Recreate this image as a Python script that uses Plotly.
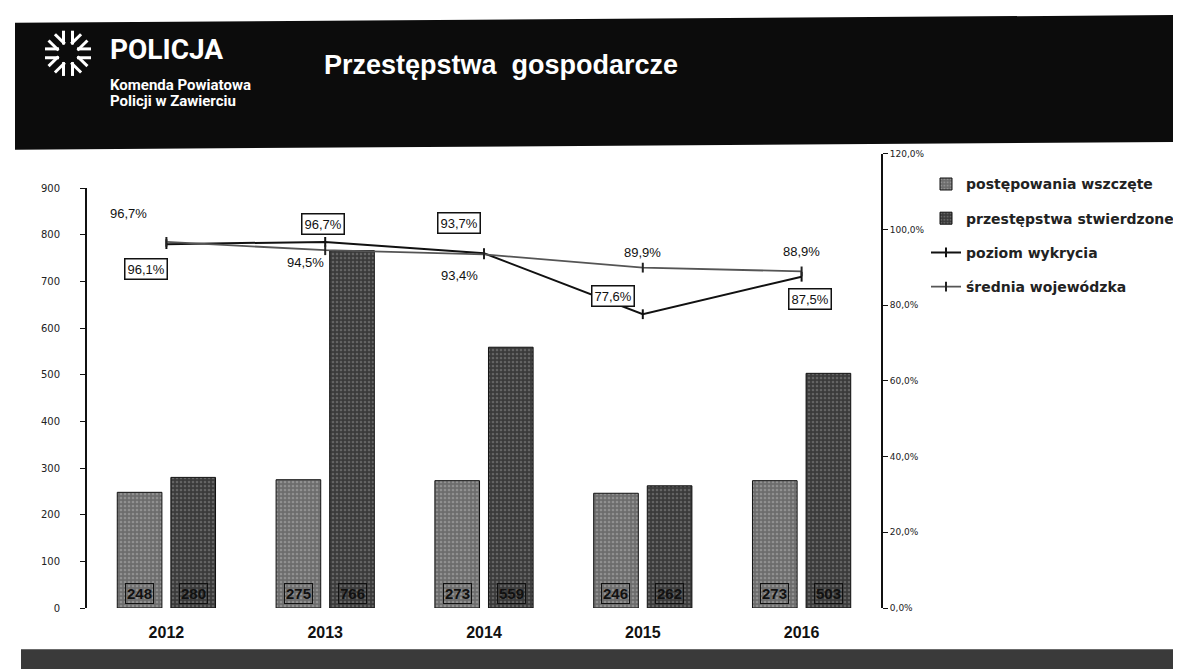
import math
import plotly.graph_objects as go

W, H = 1181, 669

years = ["2012", "2013", "2014", "2015", "2016"]
wszczete = [248, 275, 273, 246, 273]
stwierdzone = [280, 766, 559, 262, 503]
wykrycie = [96.1, 96.7, 93.7, 77.6, 87.5]
srednia = [96.7, 94.5, 93.4, 89.9, 88.9]
left_ticks = [0, 100, 200, 300, 400, 500, 600, 700, 800, 900]
right_ticks = [0, 20, 40, 60, 80, 100, 120]
right_labels = ["0,0%", "20,0%", "40,0%", "60,0%", "80,0%", "100,0%", "120,0%"]


def px(x):
    return x / W


def py(y):
    return 1 - y / H


def pct(v):
    return f"{v:.1f}%".replace(".", ",")


# plot area in pixels (the percent axis in the scan runs a bit higher than the count axis)
X0, X1 = 79, 873
Y_LEFT_TOP, Y_RIGHT_TOP, Y_BOT = 178, 143, 605

fig = go.Figure()

fig.add_trace(go.Bar(
    x=years, y=wszczete, name="postępowania wszczęte", legendgroup="a",
    marker=dict(color="#7a7a7a", line=dict(color="#111", width=1),
                pattern=dict(shape=".", size=4, solidity=0.35, fgcolor="#b5b5b5", bgcolor="#6c6c6c")),
))
fig.add_trace(go.Bar(
    x=years, y=stwierdzone, name="przestępstwa stwierdzone", legendgroup="b",
    marker=dict(color="#444", line=dict(color="#111", width=1),
                pattern=dict(shape=".", size=4, solidity=0.35, fgcolor="#8f8f8f", bgcolor="#3a3a3a")),
))
fig.add_trace(go.Scatter(
    x=years, y=wykrycie, name="poziom wykrycia", yaxis="y2", legendgroup="c",
    mode="lines+markers", line=dict(color="#111", width=2),
    marker=dict(symbol="line-ns", size=7, line=dict(color="#111", width=2)),
))
fig.add_trace(go.Scatter(
    x=years, y=srednia, name="średnia wojewódzka", yaxis="y2", legendgroup="d",
    mode="lines+markers", line=dict(color="#555", width=1.8),
    marker=dict(symbol="line-ns", size=7, line=dict(color="#222", width=2)),
))

ann = []
# bar value labels at the base of each bar (x given as category index)
for i in range(len(years)):
    for val, shift in ((wszczete[i], -27), (stwierdzone[i], 27)):
        ann.append(dict(x=i, y=0, xref="x", yref="y", text=f"<b>{val}</b>", showarrow=False,
                        xshift=shift, yshift=15, bordercolor="#111", borderwidth=1, borderpad=1,
                        font=dict(family="Liberation Sans Narrow, Liberation Sans, Arial", size=15, color="#111")))

# line labels
wyk_off = [(-20, -25), (-2, 18), (-25, 30), (-30, 18), (8, -22)]
sr_off = [(-38, 28), (-20, -12), (-25, -21), (0, 15), (0, 20)]
for i in range(len(years)):
    dx, dy = wyk_off[i]
    ann.append(dict(x=i, y=wykrycie[i], xref="x", yref="y2", text=pct(wykrycie[i]), showarrow=False,
                    xshift=dx, yshift=dy, bgcolor="white", bordercolor="#111", borderwidth=1.5, borderpad=2,
                    font=dict(family="Liberation Sans, Arial", size=13, color="#111")))
    dx, dy = sr_off[i]
    ann.append(dict(x=i, y=srednia[i], xref="x", yref="y2", text=pct(srednia[i]), showarrow=False,
                    xshift=dx, yshift=dy,
                    font=dict(family="Liberation Sans, Arial", size=13, color="#111")))

# header texts
hdr_font = "Liberation Sans Narrow, Roboto, Arial"
ann += [
    dict(x=px(100), y=py(37), xref="paper", yref="paper", xanchor="left", yanchor="middle", showarrow=False,
         text="<b>POLICJA</b>", font=dict(family=hdr_font, size=28, color="white")),
    dict(x=px(100), y=py(73), xref="paper", yref="paper", xanchor="left", yanchor="middle", showarrow=False,
         text="<b>Komenda Powiatowa</b>", font=dict(family=hdr_font, size=15, color="white")),
    dict(x=px(100), y=py(89), xref="paper", yref="paper", xanchor="left", yanchor="middle", showarrow=False,
         text="<b>Policji w Zawierciu</b>", font=dict(family=hdr_font, size=15, color="white")),
    dict(x=px(314), y=py(53), xref="paper", yref="paper", xanchor="left", yanchor="middle", showarrow=False,
         text="<b>Przestępstwa  gospodarcze</b>", font=dict(family="Liberation Sans, Arial", size=27, color="white")),
]

shapes = [
    # dark header band, slightly tilted like the scan
    dict(type="path", xref="paper", yref="paper", layer="below",
         path=f"M {px(7)},{py(10)} L {px(1181)},{py(2)} L {px(1181)},{py(131)} L {px(7)},{py(139)} Z",
         fillcolor="#0c0c0c", line=dict(width=0)),
    # bottom band
    dict(type="rect", xref="paper", yref="paper", layer="below",
         x0=px(13), x1=px(1181), y0=py(669), y1=py(647), fillcolor="#3a3a3a", line=dict(width=0)),
]
# police star logo: 8 arms made of short parallel bars
cx, cy = 60, 41
for k in range(8):
    a = math.radians(k * 45)
    ux, uy = math.cos(a), math.sin(a)
    nx, ny = -uy, ux
    for off in (-4.5, 4.5):
        shapes.append(dict(type="line", xref="paper", yref="paper",
                           x0=px(cx + 9 * ux + off * nx), y0=py(cy + 9 * uy + off * ny),
                           x1=px(cx + 23 * ux + off * nx), y1=py(cy + 23 * uy + off * ny),
                           line=dict(color="white", width=3)))

fig.update_layout(
    width=W, height=H,
    margin=dict(l=0, r=0, t=0, b=0),
    paper_bgcolor="white", plot_bgcolor="rgba(0,0,0,0)",
    barmode="group", bargap=0.325, bargroupgap=0.167,
    showlegend=True,
    legend=dict(x=px(918), y=py(158), xanchor="left", yanchor="top", tracegroupgap=13,
                font=dict(family="DejaVu Sans, Verdana", size=14, color="#222", weight="bold"),
                bgcolor="rgba(0,0,0,0)", itemwidth=30),
    xaxis=dict(type="category", range=[-0.5, 4.5], domain=[px(X0), px(X1)], showline=False, ticks="",
               showgrid=False, tickfont=dict(family="Liberation Sans, Arial", size=16, color="#111", weight="bold"),
               ticklabelstandoff=13),
    yaxis=dict(range=[0, 900], tickvals=left_ticks, showgrid=False, zeroline=False,
               showline=True, linecolor="#111", linewidth=2, ticks="outside", ticklen=5, tickcolor="#111",
               tickfont=dict(family="DejaVu Sans, Verdana", size=10, color="#222"),
               ticklabelstandoff=18, domain=[py(Y_BOT), py(Y_LEFT_TOP)]),
    yaxis2=dict(range=[0, 120], tickvals=right_ticks, ticktext=right_labels, anchor="x", side="right",
                domain=[py(Y_BOT), py(Y_RIGHT_TOP)],
                showgrid=False, zeroline=False, showline=True, linecolor="#111", linewidth=2,
                ticks="outside", ticklen=5, tickcolor="#111",
                tickfont=dict(family="DejaVu Sans, Verdana", size=9, color="#222")),
    annotations=ann,
    shapes=shapes,
)

fig.write_html("out.html")
